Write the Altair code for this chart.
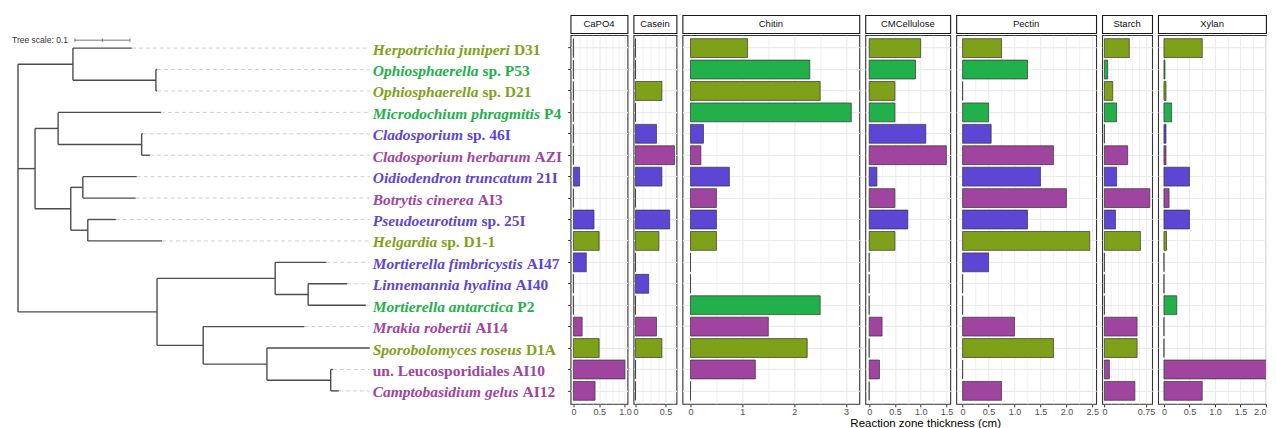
import altair as alt
import pandas as pd

# ---------------- data ----------------
species_italic = ["Herpotrichia juniperi", "Ophiosphaerella", "Ophiosphaerella", "Microdochium phragmitis",
                  "Cladosporium", "Cladosporium herbarum", "Oidiodendron truncatum", "Botrytis cinerea",
                  "Pseudoeurotium", "Helgardia", "Mortierella fimbricystis", "Linnemannia hyalina",
                  "Mortierella antarctica", "Mrakia robertii", "Sporobolomyces roseus", "",
                  "Camptobasidium gelus"]
species_plain = ["D31", "sp. P53", "sp. D21", "P4", "sp. 46I", "AZI", "21I", "AI3", "sp. 25I", "sp. D1-1",
                 "AI47", "AI40", "P2", "AI14", "D1A", "un. Leucosporidiales AI10", "AI12"]
leaf_ids = ["D31", "P53", "D21", "P4", "46I", "AZI", "21I", "AI3", "25I", "D1-1",
            "AI47", "AI40", "P2", "AI14", "D1A", "AI10", "AI12"]
groups = ["G1", "G2", "G1", "G2", "G3", "G4", "G3", "G4", "G3", "G1",
          "G3", "G3", "G2", "G4", "G1", "G4", "G4"]
group_names = ["G1", "G2", "G3", "G4"]
group_colors = ["#7FA119", "#22B04B", "#5D46D4", "#A0459F"]

# phylogeny: child, parent, branch length
tree_child = ["n1", "D31", "n1o", "P53", "D21",
              "n2", "n2a", "P4", "n2ac", "46I", "AZI",
              "n2b", "n2bo", "21I", "AI3", "n2bp", "25I", "D1-1",
              "n3", "n3m", "AI47", "n3ml", "AI40", "P2",
              "n3b", "AI14", "n3bs", "D1A", "n3bsl", "AI10", "AI12"]
tree_parent = ["root", "n1", "n1", "n1o", "n1o",
               "root", "n2", "n2a", "n2a", "n2ac", "n2ac",
               "n2", "n2b", "n2bo", "n2bo", "n2b", "n2bp", "n2bp",
               "root", "n3", "n3m", "n3m", "n3ml", "n3ml",
               "n3", "n3b", "n3b", "n3bs", "n3bs", "n3bsl", "n3bsl"]
tree_length = [0.100, 0.107, 0.151, 0.002, 0.002,
               0.031, 0.042, 0.187, 0.152, 0.002, 0.015,
               0.065, 0.022, 0.098, 0.096, 0.031, 0.051, 0.135,
               0.253, 0.215, 0.093, 0.060, 0.071, 0.105,
               0.084, 0.184, 0.116, 0.187, 0.116, 0.004, 0.015]
tree_scale_value = 0.1

substrates = ["CaPO4", "Casein", "Chitin", "CMCellulose", "Pectin", "Starch", "Xylan"]
capo4 = [0, 0, 0, 0, 0, 0, 0.12, 0, 0.40, 0.50, 0.25, 0, 0, 0.17, 0.50, 1.00, 0.42]
casein = [0, 0, 0.44, 0, 0.35, 0.65, 0.44, 0, 0.57, 0.39, 0, 0.22, 0, 0.35, 0.44, 0, 0]
chitin = [1.1, 2.3, 2.5, 3.1, 0.25, 0.2, 0.75, 0.5, 0.5, 0.5, 0, 0, 2.5, 1.5, 2.25, 1.25, 0]
cmcellulose = [1.0, 0.9, 0.5, 0.5, 1.1, 1.5, 0.15, 0.5, 0.75, 0.5, 0, 0, 0, 0.25, 0, 0.2, 0]
pectin = [0.75, 1.25, 0, 0.5, 0.55, 1.75, 1.5, 2.0, 1.25, 2.45, 0.5, 0, 0, 1.0, 1.75, 0, 0.75]
starch = [0.45, 0.06, 0.15, 0.22, 0, 0.42, 0.22, 0.82, 0.2, 0.65, 0, 0, 0, 0.59, 0.59, 0.09, 0.55]
xylan = [0.75, 0.02, 0.04, 0.15, 0.04, 0.04, 0.5, 0.1, 0.5, 0.05, 0, 0, 0.25, 0, 0, 2.3, 0.75]
values_by_substrate = [capo4, casein, chitin, cmcellulose, pectin, starch, xylan]

# ---------------- layout / style ----------------
N = len(leaf_ids)
PLOT_H = 369
STRIP_H = 18
GAP = 6
PAD_INNER, PAD_OUTER = 0.12, 0.165
TREE_W = 557
TREE_DOM = [-10 / 550, (TREE_W - 10) / 550]
PX_PER_UNIT = TREE_W / (TREE_DOM[1] - TREE_DOM[0])
LABEL_X = 0.6455
DASH_END = 0.640
LABEL_FS = 15.5
Y_DOM = [-(PAD_OUTER + (1 - PAD_INNER) / 2), N - 1 + PAD_OUTER + (1 - PAD_INNER) / 2]

# panel: width px, domain, grid step, max grid, labelled values, format
panel_style = {
    "CaPO4": (57, [-0.055, 1.05], 0.125, 1.0, [0, 0.5, 1.0], ".1f"),
    "Casein": (43, [-0.0325, 0.6825], 0.125, 0.625, [0, 0.5], ".1f"),
    "Chitin": (177, [-0.155, 3.255], 0.5, 3.0, [0, 1, 2, 3], ".0f"),
    "CMCellulose": (85, [-0.075, 1.575], 0.25, 1.5, [0, 0.5, 1.0, 1.5], ".1f"),
    "Pectin": (140, [-0.1225, 2.5725], 0.25, 2.5, [0, 0.5, 1.0, 1.5, 2.0, 2.5], ".1f"),
    "Starch": (50, [-0.041, 0.861], 0.125, 0.75, [0, 0.75], ".2f"),
    "Xylan": (108, [-0.115, 2.0], 0.25, 2.0, [0, 0.5, 1.0, 1.5, 2.0], ".1f"),
}

color_scale = alt.Scale(domain=group_names, range=group_colors)

# ---------------- tree geometry from branch lengths ----------------
children = {}
depth = {"root": 0.0}
for c, p, l in zip(tree_child, tree_parent, tree_length):
    children.setdefault(p, []).append(c)
    depth[c] = depth[p] + l
ypos = {leaf: i for i, leaf in enumerate(leaf_ids)}


def get_y(n):
    if n not in ypos:
        ys_ = [get_y(c) for c in children[n]]
        ypos[n] = (min(ys_) + max(ys_)) / 2
    return ypos[n]


get_y("root")
segs = []
for c, p in zip(tree_child, tree_parent):
    segs.append({"x": depth[p], "x2": depth[c], "y": ypos[c], "y2": ypos[c]})
for n, ch in children.items():
    yy = [ypos[c] for c in ch]
    segs.append({"x": depth[n], "x2": depth[n], "y": min(yy), "y2": max(yy)})
seg_df = pd.DataFrame(segs)

dash_df = pd.DataFrame({"x": [depth[l] for l in leaf_ids], "x2": [DASH_END] * N,
                        "y": list(range(N))})

# label widths (Times bold italic metrics) to place the upright part after the italic part
IT_W = dict(a=500, b=500, c=444, d=500, e=444, f=333, g=500, h=556, i=278, j=278, k=500, l=278,
            m=778, n=556, o=500, p=500, q=500, r=389, s=389, t=278, u=556, v=444, w=667, x=500,
            y=444, z=389)
IT_W.update({" ": 250, "H": 778, "O": 722, "M": 889, "C": 667, "B": 667, "P": 611, "S": 556,
             "L": 611, "R": 667, "A": 667})


def it_width(s):
    return sum(IT_W.get(ch, 500) for ch in s) * LABEL_FS / 1000


lab_df = pd.DataFrame({
    "y": list(range(N)),
    "italic": species_italic,
    "plain": species_plain,
    "group": groups,
    "xi": [LABEL_X] * N,
    "xp": [LABEL_X + ((it_width(s) + 250 * LABEL_FS / 1000) / PX_PER_UNIT if s else 0)
           for s in species_italic],
})

xs = alt.Scale(domain=TREE_DOM, nice=False, zero=False)
ys = alt.Scale(domain=Y_DOM, nice=False, zero=False, reverse=True)

tree_lines = alt.Chart(seg_df).mark_rule(color="#4D4D4D", strokeWidth=1.4).encode(
    x=alt.X("x:Q", scale=xs, axis=None), x2="x2:Q",
    y=alt.Y("y:Q", scale=ys, axis=None), y2="y2:Q")
dashes = alt.Chart(dash_df).mark_rule(color="#CFCFCF", strokeWidth=1, strokeDash=[4, 3]).encode(
    x=alt.X("x:Q", scale=xs, axis=None), x2="x2:Q",
    y=alt.Y("y:Q", scale=ys, axis=None))
lab_it = alt.Chart(lab_df).mark_text(align="left", baseline="middle", dy=1.5, font="Liberation Serif",
                                     fontSize=LABEL_FS, fontStyle="italic", fontWeight="bold").encode(
    x=alt.X("xi:Q", scale=xs, axis=None), y=alt.Y("y:Q", scale=ys, axis=None), text="italic:N",
    color=alt.Color("group:N", scale=color_scale, legend=None))
lab_pl = alt.Chart(lab_df).mark_text(align="left", baseline="middle", dy=1.5, font="Liberation Serif",
                                     fontSize=LABEL_FS, fontWeight="bold").encode(
    x=alt.X("xp:Q", scale=xs, axis=None), y=alt.Y("y:Q", scale=ys, axis=None), text="plain:N",
    color=alt.Color("group:N", scale=color_scale, legend=None))

# tree scale bar
SB_X0, SB_Y = 0.1036, -0.37
sb_df = pd.DataFrame({"x": [SB_X0], "x2": [SB_X0 + tree_scale_value], "y": [SB_Y],
                      "label": [f"Tree scale: {tree_scale_value}"]})
sb_ticks = pd.DataFrame({"x": [SB_X0, SB_X0 + tree_scale_value / 2, SB_X0 + tree_scale_value],
                         "y": [SB_Y - 0.08] * 3, "y2": [SB_Y + 0.08] * 3})
sb_line = alt.Chart(sb_df).mark_rule(color="#777777", strokeWidth=1).encode(
    x=alt.X("x:Q", scale=xs, axis=None), x2="x2:Q", y=alt.Y("y:Q", scale=ys, axis=None))
sb_tk = alt.Chart(sb_ticks).mark_rule(color="#777777", strokeWidth=1).encode(
    x=alt.X("x:Q", scale=xs, axis=None), y=alt.Y("y:Q", scale=ys, axis=None), y2="y2:Q")
sb_text = alt.Chart(sb_df).mark_text(align="right", baseline="middle", dx=-7, font="Liberation Sans",
                                     fontSize=8.5, color="#333333").encode(
    x=alt.X("x:Q", scale=xs, axis=None), y=alt.Y("y:Q", scale=ys, axis=None), text="label:N")

tree = alt.layer(dashes, tree_lines, sb_line, sb_tk, sb_text, lab_it, lab_pl).properties(
    width=TREE_W, height=PLOT_H, view=alt.ViewBackground(strokeWidth=0))
tree_strip = alt.Chart(pd.DataFrame({"t": [""]})).mark_text().encode(text="t:N").properties(
    width=TREE_W, height=STRIP_H, view=alt.ViewBackground(strokeWidth=0))


# ---------------- bar panels ----------------
def make_panel(name, vals, first):
    w, dom, step, gmax, majors, fmt = panel_style[name]
    n_grid = int(round(gmax / step))
    grid_vals = [k * step for k in range(n_grid + 1)]
    maj = "[" + ",".join(str(m) for m in majors) + "]"
    test = f"indexof({maj}, datum.value) >= 0"
    xaxis = alt.Axis(values=grid_vals, title=None, domain=False, grid=True,
                     labelExpr=f"{test} ? (datum.value == 0 ? '0' : format(datum.value, '{fmt}')) : ''",
                     tickOpacity={"condition": {"test": test, "value": 1}, "value": 0},
                     gridWidth={"condition": {"test": test, "value": 1.1}, "value": 0.7},
                     tickSize=3, labelPadding=1, labelFlush=(name == "Xylan"),
                     labelOverlap=False)
    yaxis = alt.Axis(title=None, labels=False, ticks=first, tickSize=3, domain=False, grid=True,
                     bandPosition=0.5, gridWidth=1.1)
    df = pd.DataFrame({"row": list(range(N)), "value": vals, "group": groups})
    bars = alt.Chart(df).mark_bar(stroke="#333333", strokeWidth=0.7, clip=True, cornerRadius=0).encode(
        x=alt.X("value:Q", scale=alt.Scale(domain=dom, nice=False, zero=False), axis=xaxis),
        x2=alt.datum(0),
        y=alt.Y("row:O", scale=alt.Scale(paddingInner=PAD_INNER, paddingOuter=PAD_OUTER), axis=yaxis),
        color=alt.Color("group:N", scale=color_scale, legend=None),
    ).properties(width=w, height=PLOT_H,
                 view=alt.ViewBackground(stroke="#333333", strokeWidth=1.1, cornerRadius=0))
    strip = alt.Chart(pd.DataFrame({"panel": [name]})).mark_text(
        font="Liberation Sans", fontSize=9.5, color="#111111", baseline="middle").encode(
        text="panel:N", x=alt.value(w / 2), y=alt.value(STRIP_H / 2)).properties(
        width=w, height=STRIP_H,
        view=alt.ViewBackground(stroke="#1A1A1A", strokeWidth=1.1, fill="white", cornerRadius=0))
    return strip, bars


strips, panels = [], []
for i, (name, vals) in enumerate(zip(substrates, values_by_substrate)):
    s, b = make_panel(name, vals, i == 0)
    strips.append(s)
    panels.append(b)

strip_row = alt.hconcat(tree_strip, *strips, spacing=GAP, bounds="flush")
bar_row = alt.hconcat(tree, *panels, spacing=GAP, bounds="flush")

chart = alt.vconcat(strip_row, bar_row, spacing=0).properties(
    padding={"left": 0, "top": 6, "right": 0, "bottom": 0},
    background="white",
    title=alt.TitleParams("Reaction zone thickness (cm)", orient="bottom", anchor="start", dx=843,
                          offset=1, font="Liberation Sans", fontSize=11.5, fontWeight="normal",
                          color="#000000"),
).configure_axis(
    labelFont="Liberation Sans", labelFontSize=9, labelColor="#4D4D4D",
    tickColor="#333333", gridColor="#EBEBEB",
)

chart.save("out.html", embed_options={"renderer": "svg", "actions": False})
